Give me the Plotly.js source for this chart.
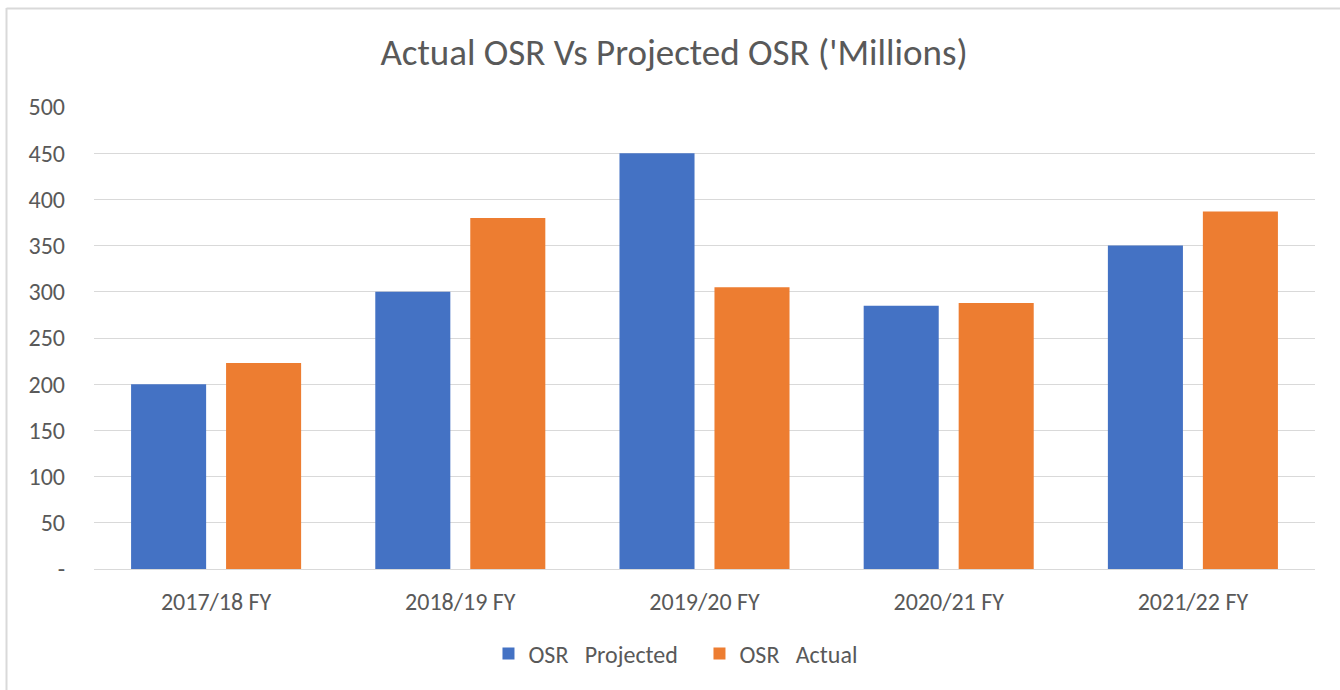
<!DOCTYPE html>
<html>
<head>
<meta charset="utf-8">
<script src="https://cdn.plot.ly/plotly-3.0.1.min.js"></script>
<style>
  html, body { margin: 0; padding: 0; background: #ffffff; }
  #chart { width: 1340px; height: 690px; }
</style>
</head>
<body>
<div id="chart"></div>
<script>
const categories = ["2017/18 FY", "2018/19 FY", "2019/20 FY", "2020/21 FY", "2021/22 FY"];
const projected = [200, 300, 450, 285, 350];
const actual = [223, 380, 305, 288, 387];
const yTickVals = [0, 50, 100, 150, 200, 250, 300, 350, 400, 450, 500];
const yTickText = ["-", "50", "100", "150", "200", "250", "300", "350", "400", "450", "500"];

const FONT = "Calibri, Carlito, 'Open Sans', 'Noto Sans', sans-serif";
const GREY = "#595959";

const traces = [
  {
    type: "bar",
    name: "OSR\u00a0\u00a0\u00a0Projected",
    x: categories,
    y: projected,
    marker: { color: "#4472C4", line: { width: 0 } },
    hoverinfo: "x+y"
  },
  {
    type: "bar",
    name: "OSR\u00a0\u00a0\u00a0Actual",
    x: categories,
    y: actual,
    marker: { color: "#ED7D31", line: { width: 0 } },
    hoverinfo: "x+y"
  }
];

const layout = {
  width: 1340,
  height: 690,
  paper_bgcolor: "#ffffff",
  plot_bgcolor: "#ffffff",
  font: { family: FONT, color: GREY, size: 24 },
  margin: { l: 94, r: 25, t: 107, b: 121, pad: 0 },
  title: {
    text: "Actual OSR Vs Projected OSR ('Millions)",
    font: { family: FONT, size: 37, color: GREY },
    xref: "container", x: 0.503, xanchor: "center",
    yref: "container", y: 1 - 52 / 690, yanchor: "middle"
  },
  barmode: "group",
  bargap: 0.222,
  bargroupgap: 0.21,
  xaxis: {
    type: "category",
    showgrid: false,
    showline: true,
    linecolor: "#d9d9d9",
    linewidth: 1,
    ticks: "",
    tickfont: { family: FONT, size: 24, color: GREY },
    ticklabelstandoff: 11
  },
  yaxis: {
    range: [0, 500],
    tickvals: yTickVals,
    ticktext: yTickText,
    showgrid: true,
    gridcolor: "#d9d9d9",
    gridwidth: 1,
    zeroline: false,
    showline: false,
    ticks: "",
    tickfont: { family: FONT, size: 24, color: GREY },
    ticklabelstandoff: 28
  },
  showlegend: true,
  legend: {
    orientation: "h",
    xref: "container", x: 0.522, xanchor: "center",
    yref: "container", y: 1 - 654 / 690, yanchor: "middle",
    font: { family: FONT, size: 24, color: GREY },
    itemwidth: 30,
    entrywidth: 166,
    tracegroupgap: 0
  },
  shapes: [
    {
      type: "line", xref: "paper", yref: "paper",
      x0: (6.5 - 94) / 1221, x1: (6.5 - 94) / 1221,
      y0: (569 - 8) / 462, y1: (569 - 700) / 462,
      line: { color: "#d9d9d9", width: 2 }
    },
    {
      type: "line", xref: "paper", yref: "paper",
      x0: (6.5 - 94) / 1221, x1: (1350 - 94) / 1221,
      y0: (569 - 8.5) / 462, y1: (569 - 8.5) / 462,
      line: { color: "#d9d9d9", width: 2 }
    }
  ]
};

Plotly.newPlot("chart", traces, layout, { displayModeBar: false, staticPlot: true });
</script>
</body>
</html>
